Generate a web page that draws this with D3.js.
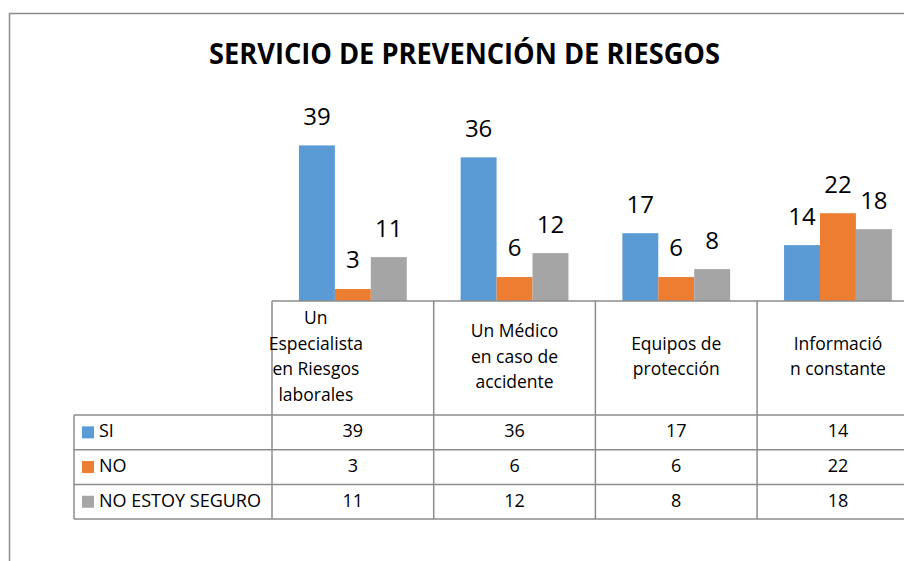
<!DOCTYPE html>
<meta charset="utf-8">
<style>
  body { margin: 0; background: #fff; }
  text { font-family: "Open Sans", "Noto Sans", sans-serif; fill: #000; }
</style>
<div id="chart"></div>
<script src="https://d3js.org/d3.v7.min.js"></script>
<script>
// data
var title = "SERVICIO DE PREVENCIÓN DE RIESGOS";
var categories = [
  ["Un", "Especialista", "en Riesgos", "laborales"],
  ["Un Médico", "en caso de", "accidente"],
  ["Equipos de", "protección"],
  ["Informació", "n constante"]
];
var seriesNames = ["SI", "NO", "NO ESTOY SEGURO"];
var si = [39, 36, 17, 14];
var no = [3, 6, 6, 22];
var noSeguro = [11, 12, 8, 18];
var colors = ["#5B9BD5", "#ED7D31", "#A5A5A5"];

var series = [si, no, noSeguro];

var W = 904, H = 561;
var svg = d3.select("#chart").append("svg")
  .attr("width", W).attr("height", H);

var gridColor = "#8c8c8c";

// outer chart frame (cut off on right and bottom)
svg.append("path")
  .attr("d", "M9.5," + H + "V13.5H" + W)
  .attr("fill", "none")
  .attr("stroke", gridColor)
  .attr("stroke-width", 1.5);

svg.append("text")
  .attr("x", 209).attr("y", 64)
  .attr("textLength", 511)
  .attr("lengthAdjust", "spacingAndGlyphs")
  .style("font-size", "28px")
  .style("font-weight", "bold")
  .text(title);

// scales
var plotLeft = 272, colW = 161.7;
var x = d3.scaleBand()
  .domain(d3.range(categories.length))
  .range([plotLeft, plotLeft + colW * categories.length])
  .paddingInner(0)
  .paddingOuter(0);

var x1 = d3.scaleBand()
  .domain(d3.range(series.length))
  .range([0, x.bandwidth()])
  .paddingOuter(0.75);

var baseY = 301;
var y = d3.scaleLinear().domain([0, 45]).range([baseY, baseY - 45 * 3.99]);

// bars
var groups = svg.selectAll(".cat")
  .data(categories)
  .enter().append("g")
  .attr("class", "cat")
  .attr("transform", function(d, i) { return "translate(" + x(i) + ",0)"; });

groups.each(function(c, i) {
  var g = d3.select(this);
  series.forEach(function(s, j) {
    g.append("rect")
      .attr("x", x1(j))
      .attr("y", y(s[i]))
      .attr("width", x1.bandwidth())
      .attr("height", baseY - y(s[i]))
      .attr("fill", colors[j]);
    g.append("text")
      .attr("x", x1(j) + x1.bandwidth() / 2)
      .attr("y", y(s[i]) - 27)
      .attr("text-anchor", "middle")
      .attr("dominant-baseline", "middle")
      .style("font-size", "24px")
      .text(s[i]);
  });
});

// data table
var tableLeft = 74;
var headerBottom = 415, rowH = 34.7;
var tableRight = x.range()[1];
var rowsBottom = headerBottom + rowH * series.length;

var lines = svg.append("g")
  .attr("stroke", gridColor)
  .attr("stroke-width", 1.5);

// horizontal lines
lines.append("line")
  .attr("x1", plotLeft).attr("x2", tableRight)
  .attr("y1", baseY).attr("y2", baseY);
for (var r = 0; r <= series.length; r++) {
  var yy = headerBottom + r * rowH;
  lines.append("line")
    .attr("x1", tableLeft).attr("x2", tableRight)
    .attr("y1", yy).attr("y2", yy);
}
// vertical lines
lines.append("line")
  .attr("x1", tableLeft).attr("x2", tableLeft)
  .attr("y1", headerBottom).attr("y2", rowsBottom);
for (var c = 0; c <= categories.length; c++) {
  var xx = plotLeft + c * colW;
  lines.append("line")
    .attr("x1", xx).attr("x2", xx)
    .attr("y1", baseY).attr("y2", rowsBottom);
}

// header labels
var lineH = 25.5;
var headerMid = (baseY + headerBottom) / 2;
categories.forEach(function(lbl, i) {
  var cx = x(i) + x.bandwidth() / 2 - (i === 0 ? 37 : 0);
  var t = svg.append("text")
    .attr("text-anchor", "middle")
    .style("font-size", "17.5px");
  lbl.forEach(function(line, k) {
    t.append("tspan")
      .attr("x", cx)
      .attr("y", headerMid + (k - (lbl.length - 1) / 2) * lineH)
      .attr("dominant-baseline", "middle")
      .text(line);
  });
});

// rows
seriesNames.forEach(function(name, j) {
  var cy = headerBottom + (j + 0.5) * rowH;
  svg.append("rect")
    .attr("x", 82).attr("y", cy - 6)
    .attr("width", 12).attr("height", 12)
    .attr("fill", colors[j]);
  svg.append("text")
    .attr("x", 99).attr("y", cy)
    .attr("dominant-baseline", "middle")
    .style("font-size", "18px")
    .text(name);
  series[j].forEach(function(v, i) {
    svg.append("text")
      .attr("x", x(i) + x.bandwidth() / 2)
      .attr("y", cy)
      .attr("text-anchor", "middle")
      .attr("dominant-baseline", "middle")
      .style("font-size", "18px")
      .text(v);
  });
});
</script>
